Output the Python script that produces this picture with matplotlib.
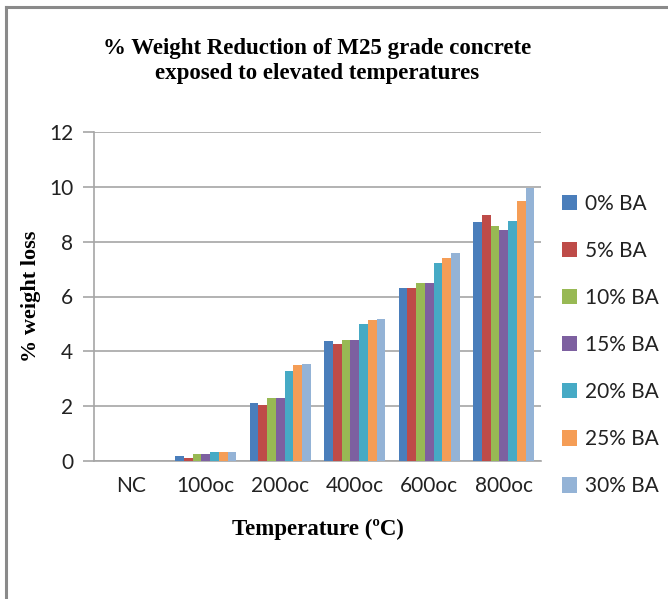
import numpy as np
import matplotlib
matplotlib.use("Agg")
import matplotlib.pyplot as plt
from matplotlib.lines import Line2D
from matplotlib.patches import Patch

# Data
categories = ["NC", "100oc", "200oc", "400oc", "600oc", "800oc"]
series_names = ["0% BA", "5% BA", "10% BA", "15% BA", "20% BA", "25% BA", "30% BA"]
ba_0 = [0, 0.17, 2.11, 4.37, 6.30, 8.70]
ba_5 = [0, 0.12, 2.05, 4.27, 6.30, 8.98]
ba_10 = [0, 0.27, 2.29, 4.41, 6.50, 8.56]
ba_15 = [0, 0.27, 2.29, 4.41, 6.50, 8.43]
ba_20 = [0, 0.32, 3.30, 5.01, 7.21, 8.76]
ba_25 = [0, 0.32, 3.49, 5.15, 7.40, 9.50]
ba_30 = [0, 0.32, 3.52, 5.18, 7.57, 9.94]
series = [ba_0, ba_5, ba_10, ba_15, ba_20, ba_25, ba_30]
colors = ['#4A7EBB', '#BE4B48', '#98B954', '#7D60A0', '#46AAC5', '#F59D56', '#94B3D6']

W, H = 668, 599
fig = plt.figure(figsize=(W / 100, H / 100), dpi=100)

# outer chart frame (only top and left edges are in view)
fig.add_artist(Line2D([6 / W, 6 / W], [0, 1 - 7 / H], color='#8a8a8a', lw=2.2,
                      transform=fig.transFigure))
fig.add_artist(Line2D([6 / W, 1], [1 - 7 / H, 1 - 7 / H], color='#8a8a8a', lw=2.2,
                      transform=fig.transFigure))

ax = fig.add_axes([94 / W, 1 - 461 / H, (541 - 94) / W, (461 - 132) / H])

x = np.arange(len(categories))
bw = 0.117
for i, (vals, name, c) in enumerate(zip(series, series_names, colors)):
    ax.bar(x + (i - 3) * bw, vals, width=bw, color=c, label=name, zorder=3)

ax.set_xlim(-0.5, len(categories) - 0.5)
ax.set_ylim(0, 12)
ax.set_yticks(range(0, 13, 2))
ax.grid(axis='y', color='#a6a6a6', lw=1.2, zorder=0)
for s in ['top', 'right']:
    ax.spines[s].set_visible(False)
ax.spines['left'].set_color('#a6a6a6')
ax.spines['bottom'].set_color('#a6a6a6')
ax.spines['left'].set_linewidth(1.2)
ax.spines['bottom'].set_linewidth(1.2)
ax.tick_params(axis='y', length=8, color='#a6a6a6', width=1.2, pad=7,
               labelsize=15, labelcolor='#222222')
ax.tick_params(axis='x', length=0, pad=11, labelsize=15, labelcolor='#222222')
ax.set_xticks(x)
ax.set_xticklabels(categories)
for lbl in ax.get_xticklabels() + ax.get_yticklabels():
    lbl.set_family('Lato')

ax.set_title("% Weight Reduction of M25 grade concrete\nexposed to elevated temperatures",
             family='Liberation Serif', fontweight='bold', fontsize=16.5,
             linespacing=1.25, pad=38)
ax.set_ylabel("% weight loss", family='Liberation Serif', fontweight='bold',
              fontsize=16, labelpad=6)
ax.set_xlabel("Temperature (ºC)", family='Liberation Serif', fontweight='bold',
              fontsize=16.5, labelpad=16)

handles = [Patch(facecolor=c, edgecolor='none') for c in colors]
fig.legend(handles, series_names, loc='upper left',
           bbox_to_anchor=(543 / W, 1 - 175 / H), frameon=False,
           prop={'family': 'Lato', 'size': 15}, labelspacing=1.3,
           handlelength=0.75, handleheight=0.75, handletextpad=0.35,
           labelcolor='#222222')

fig.savefig("out.png", dpi=100)
